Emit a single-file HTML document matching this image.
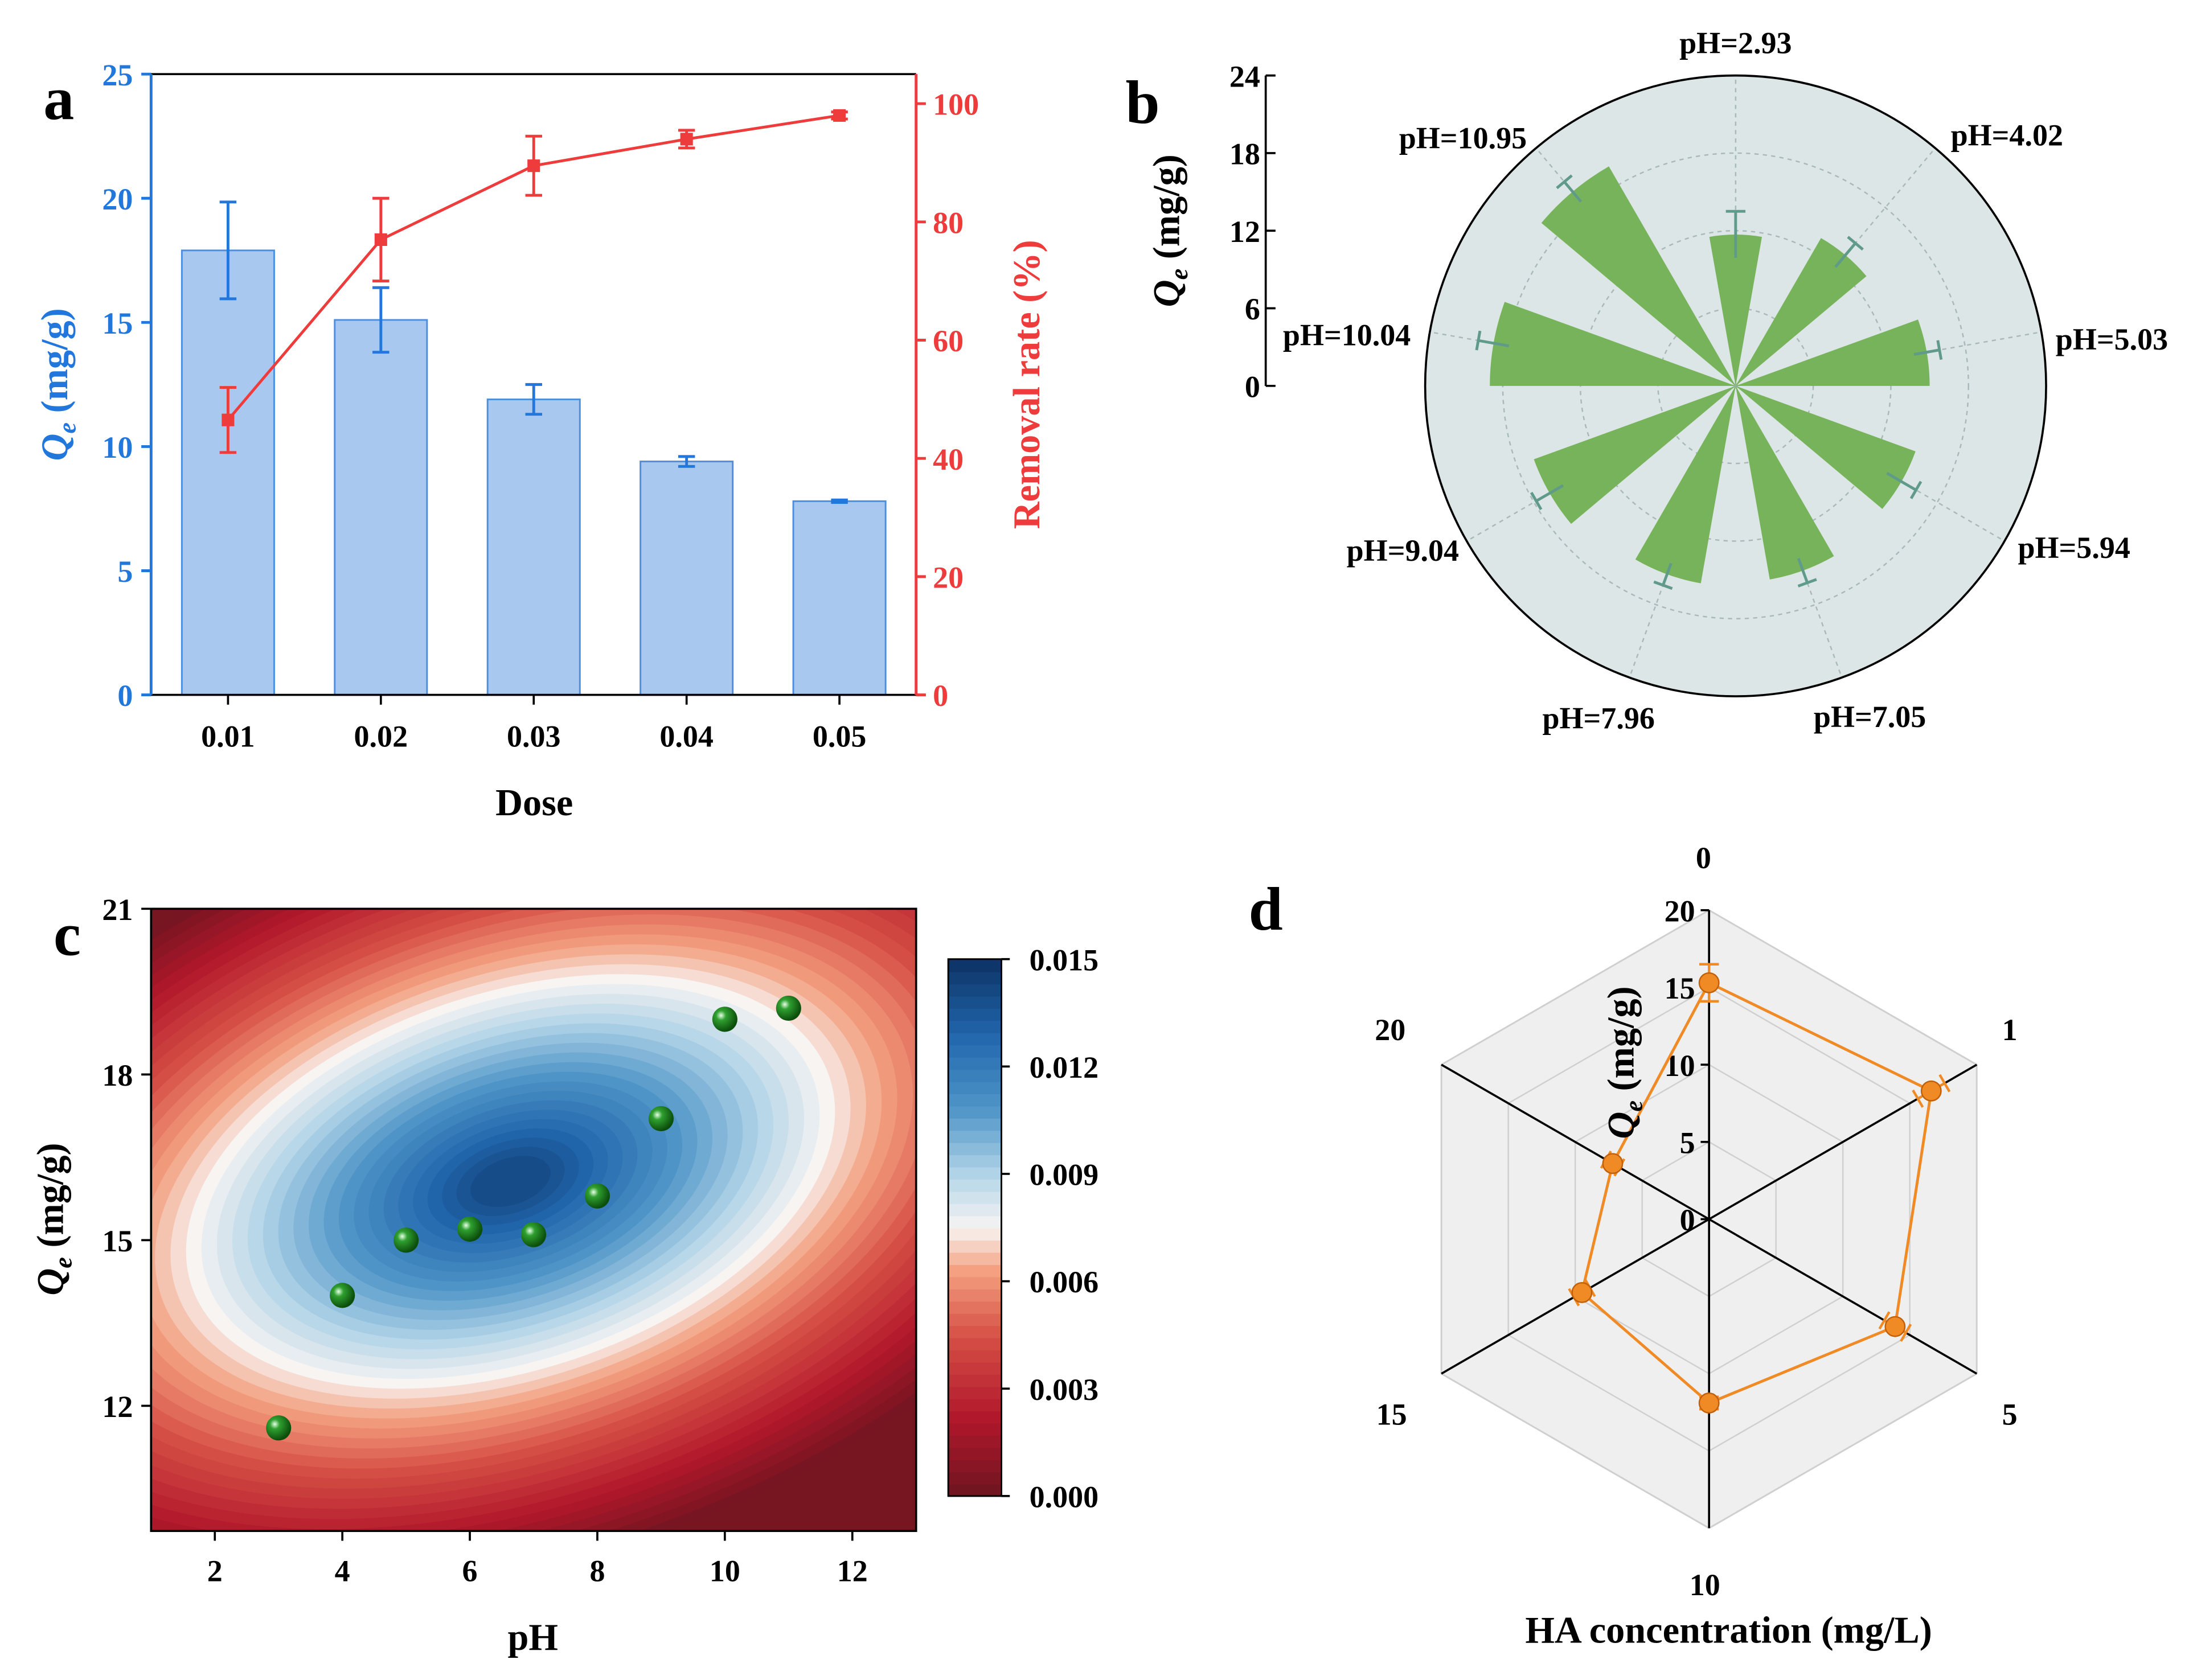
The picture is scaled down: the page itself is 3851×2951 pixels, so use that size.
<!DOCTYPE html>
<html><head><meta charset="utf-8"><style>
html,body{margin:0;padding:0;background:#fff;overflow:hidden;width:3851px;height:2951px;}
svg{display:block;font-family:"Liberation Serif","Times New Roman",serif;font-weight:bold;}
</style></head><body>
<svg id="fig" xmlns="http://www.w3.org/2000/svg" width="3851" height="2951" viewBox="0 0 1568 1201.6">
<rect x="0" y="0" width="1568" height="1202" fill="#fff"/>
<defs>
<clipPath id="clipc"><rect x="108" y="650" width="547" height="445"/></clipPath>
<radialGradient id="ball" cx="35%" cy="35%" r="65%"><stop offset="0" stop-color="#e8ffe8"/><stop offset="0.3" stop-color="#2fa02f"/><stop offset="1" stop-color="#0b4d0b"/></radialGradient>
</defs>
<g id="pa"></g>
<g id="pb"></g>
<g id="pc"></g>
<g id="pd"></g>
</svg>
<script>
// ---- Panel a data
const doses=['0.01','0.02','0.03','0.04','0.05'];
const qeVals=[17.9,15.1,11.9,9.4,7.8];
const qeErr=[1.95,1.3,0.6,0.2,0.05];
const remVals=[46.5,77,89.5,94,98];
const remErr=[5.5,7,5,1.5,0.6];
const qeTicks=[0,5,10,15,20,25];
const remTicks=[0,20,40,60,80,100];
// ---- Panel b data
const phLabels=['pH=2.93','pH=4.02','pH=5.03','pH=5.94','pH=7.05','pH=7.96','pH=9.04','pH=10.04','pH=10.95'];
const polarVals=[11.7,13.2,15.0,14.8,15.2,15.5,16.6,19.0,19.6];
const polarErr=[1.8,1.2,1.0,1.3,1.0,0.9,1.2,1.2,1.0];
const polarTicks=[0,6,12,18,24];
// ---- Panel c data
const phPts=[3,4,5,6,7,8,9,10,11];
const qePts=[11.6,14.0,15.0,15.2,15.1,15.8,17.2,19.0,19.2];
const cxTicks=[2,4,6,8,10,12];
const cyTicks=[12,15,18,21];
const cbTicks=['0.000','0.003','0.006','0.009','0.012','0.015'];
// ---- Panel d data
const haConc=['0','1','5','10','15','20'];
const haVals=[15.3,16.6,13.9,11.9,9.5,7.2];
const haErr=[1.2,1.0,0.8,0.4,0.6,0.5];
const radarTicks=[0,5,10,15,20];

const NS='http://www.w3.org/2000/svg';
function mk(tag,attrs,parent,txt){const e=document.createElementNS(NS,tag);for(const k in attrs)e.setAttribute(k,attrs[k]);if(txt!==undefined)e.textContent=txt;parent.appendChild(e);return e;}
let el;
// ================= Panel a
const pa=document.getElementById('pa');
const aL=108,aR=655,aT=53,aB=497;
const blue='#2277dd',red='#ee3b3b';
const xA=i=>163+i*109.3;
const yQ=v=>aB-v/25*(aB-aT);
const yR=v=>aB-v/105*(aB-aT);
el=mk('text',{x:42,y:85,'font-size':44,'text-anchor':'middle'},pa,'a');


doses.forEach((d,i)=>{
  el=mk('rect',{x:xA(i)-33,y:yQ(qeVals[i]),width:66,height:aB-yQ(qeVals[i]),fill:'#a9c8f0',stroke:'#4d8fdc','stroke-width':1.2},pa);
  
  
  const t=yQ(qeVals[i]+qeErr[i]),b=yQ(qeVals[i]-qeErr[i]);
  el=mk('path',{d:`M${xA(i)} ${t}V${b}M${xA(i)-6} ${t}H${xA(i)+6}M${xA(i)-6} ${b}H${xA(i)+6}`,stroke:blue,'stroke-width':2,fill:'none'},pa);
  
  
});
let lp='';
doses.forEach((d,i)=>{lp+=(i?'L':'M')+xA(i)+' '+yR(remVals[i]);});
el=mk('path',{d:lp,stroke:red,'stroke-width':2,fill:'none'},pa);


doses.forEach((d,i)=>{
  const x=xA(i),t=yR(remVals[i]+remErr[i]),b=yR(remVals[i]-remErr[i]);
  el=mk('path',{d:`M${x} ${t}V${b}M${x-6} ${t}H${x+6}M${x-6} ${b}H${x+6}`,stroke:red,'stroke-width':2,fill:'none'},pa);
  
  
  el=mk('rect',{x:x-4.5,y:yR(remVals[i])-4.5,width:9,height:9,fill:red},pa);
  
  
});
el=mk('path',{d:`M${aL} ${aT}V${aB}H${aR}M${aL} ${aT}H${aR}`,stroke:'#000','stroke-width':1.5,fill:'none'},pa);


el=mk('line',{x1:aL,y1:aT,x2:aL,y2:aB,stroke:blue,'stroke-width':2},pa);


el=mk('line',{x1:aR,y1:aT,x2:aR,y2:aB,stroke:red,'stroke-width':2},pa);


qeTicks.forEach(v=>{
  mk('line',{x1:aL-7,x2:aL,y1:yQ(v),y2:yQ(v),stroke:blue,'stroke-width':2},pa);
  el=mk('text',{x:aL-13,y:yQ(v)+8,'font-size':22,fill:blue,'text-anchor':'end'},pa,v);
  
  
});
remTicks.forEach(v=>{
  mk('line',{x1:aR,x2:aR+7,y1:yR(v),y2:yR(v),stroke:red,'stroke-width':2},pa);
  el=mk('text',{x:aR+12,y:yR(v)+8,'font-size':22,fill:red},pa,v);
  
  
});
doses.forEach((d,i)=>{
  mk('line',{x1:xA(i),x2:xA(i),y1:aB,y2:aB+7,stroke:'#000','stroke-width':1.5},pa);
  el=mk('text',{x:xA(i),y:534,'font-size':22,'text-anchor':'middle'},pa,d);
  
  
});
el=mk('text',{x:382,y:583,'font-size':27,'text-anchor':'middle'},pa,'Dose');


el=mk('text',{transform:'translate(48,275) rotate(-90)','font-size':27,fill:blue,'text-anchor':'middle'},pa);
el.innerHTML='<tspan font-style="italic">Q</tspan><tspan font-style="italic" font-size="18" dy="6">e</tspan><tspan dy="-6"> (mg/g)</tspan>';


el=mk('text',{transform:'translate(743,275) rotate(-90)','font-size':27,fill:red,'text-anchor':'middle'},pa,'Removal rate (%)');



// ================= Panel b
const pb=document.getElementById('pb');
const bcx=1241,bcy=276,bR=222,bMax=24;
const rB=v=>v/bMax*bR;
const pt=(r,deg)=>{const a=deg*Math.PI/180;return [bcx+r*Math.sin(a),bcy-r*Math.cos(a)];};
el=mk('text',{x:817,y:88,'font-size':44,'text-anchor':'middle'},pb,'b');


el=mk('circle',{cx:bcx,cy:bcy,r:bR,fill:'#dde6e6',stroke:'#000','stroke-width':1.5},pb);


[6,12,18].forEach(v=>{
  el=mk('circle',{cx:bcx,cy:bcy,r:rB(v),fill:'none',stroke:'#a9b8b8','stroke-width':1,'stroke-dasharray':'3 3'},pb);
  
  
});
phLabels.forEach((l,i)=>{
  const p=pt(bR,i*40);
  mk('line',{x1:bcx,y1:bcy,x2:p[0],y2:p[1],stroke:'#a9b8b8','stroke-width':1,'stroke-dasharray':'3 3'},pb);
});
phLabels.forEach((l,i)=>{
  const c=i*40,h=10,r=rB(polarVals[i]);
  const p1=pt(r,c-h),p2=pt(r,c+h);
  el=mk('path',{d:`M${bcx} ${bcy}L${p1[0]} ${p1[1]}A${r} ${r} 0 0 1 ${p2[0]} ${p2[1]}Z`,fill:'#77b35a'},pb);
  
  
  const r0=rB(polarVals[i]-polarErr[i]),r1=rB(polarVals[i]+polarErr[i]);
  const a=pt(r0,c),b=pt(r1,c);
  const perp=[Math.cos(c*Math.PI/180)*7,Math.sin(c*Math.PI/180)*7];
  el=mk('path',{d:`M${a[0]} ${a[1]}L${b[0]} ${b[1]}M${b[0]-perp[0]} ${b[1]-perp[1]}L${b[0]+perp[0]} ${b[1]+perp[1]}`,stroke:'#5f9a8a','stroke-width':2,fill:'none'},pb);
  
  
});
const phPos=[[1241,38,'middle'],[1435,104,'middle'],[1510,250,'middle'],[1483,399,'middle'],[1337,520,'middle'],[1143,521,'middle'],[1003,401,'middle'],[963,247,'middle'],[1046,106,'middle']];
phLabels.forEach((l,i)=>{
  el=mk('text',{x:phPos[i][0],y:phPos[i][1],'font-size':22,'text-anchor':phPos[i][2]},pb,l);
  
  
});
el=mk('line',{x1:905,y1:bcy-bR,x2:905,y2:bcy,stroke:'#000','stroke-width':1.5},pb);


polarTicks.forEach(v=>{
  const y=bcy-rB(v);
  mk('line',{x1:905,x2:912,y1:y,y2:y,stroke:'#000','stroke-width':1.5},pb);
  el=mk('text',{x:901,y:y+8,'font-size':22,'text-anchor':'end'},pb,v);
  
  
});
el=mk('text',{transform:'translate(843,165) rotate(-90)','font-size':27,'text-anchor':'middle'},pb);
el.innerHTML='<tspan font-style="italic">Q</tspan><tspan font-style="italic" font-size="18" dy="6">e</tspan><tspan dy="-6"> (mg/g)</tspan>';



// ================= Panel c
const pc=document.getElementById('pc');
const cL=108,cR=655,cT=650,cB=1095;
const xC=v=>cL+(v-1)/12*(cR-cL);
const yC=v=>cT+(21-v)/3*118.5;
function lerp(a,b,t){return Math.round(a+(b-a)*t);}
const stops=[[0,[110,20,32]],[0.15,[178,24,43]],[0.3,[214,80,70]],[0.42,[244,160,128]],[0.5,[247,244,242]],[0.6,[178,212,232]],[0.72,[80,150,200]],[0.86,[33,102,172]],[1,[12,50,100]]];
function cmap(t){for(let i=1;i<stops.length;i++){if(t<=stops[i][0]){const a=stops[i-1],b=stops[i],u=(t-a[0])/(b[0]-a[0]);return `rgb(${lerp(a[1][0],b[1][0],u)},${lerp(a[1][1],b[1][1],u)},${lerp(a[1][2],b[1][2],u)})`;}}return 'rgb(12,50,100)';}
el=mk('text',{x:48,y:683,'font-size':44,'text-anchor':'middle'},pc,'c');


const cg=mk('g',{'clip-path':'url(#clipc)'},pc);


mk('rect',{x:cL,y:cT,width:cR-cL,height:cB-cT,fill:cmap(0.02)},cg);
const NL=44,ecx=365,ecy=845,sa=240,sb=135;
for(let i=1;i<NL;i++){
  const f=i/NL;const d=Math.pow(2*(1-f),1.05);
  el=mk('ellipse',{cx:ecx,cy:ecy,rx:sa*d,ry:sb*d,transform:`rotate(-18 ${ecx} ${ecy})`,fill:cmap(Math.min(f,0.93))},cg);
  
  
}
phPts.forEach((p,i)=>{
  el=mk('circle',{cx:xC(p),cy:yC(qePts[i]),r:9,fill:'url(#ball)'},pc);
  
  
});
el=mk('rect',{x:cL,y:cT,width:cR-cL,height:cB-cT,fill:'none',stroke:'#000','stroke-width':1.5},pc);


cxTicks.forEach(v=>{
  mk('line',{x1:xC(v),x2:xC(v),y1:cB,y2:cB+7,stroke:'#000','stroke-width':1.5},pc);
  el=mk('text',{x:xC(v),y:1131,'font-size':22,'text-anchor':'middle'},pc,v);
  
  
});
cyTicks.forEach(v=>{
  mk('line',{x1:cL-7,x2:cL,y1:yC(v),y2:yC(v),stroke:'#000','stroke-width':1.5},pc);
  el=mk('text',{x:cL-13,y:yC(v)+8,'font-size':22,'text-anchor':'end'},pc,v);
  
  
});
el=mk('text',{x:381,y:1180,'font-size':27,'text-anchor':'middle'},pc,'pH');


el=mk('text',{transform:'translate(45,872) rotate(-90)','font-size':27,'text-anchor':'middle'},pc);
el.innerHTML='<tspan font-style="italic">Q</tspan><tspan font-style="italic" font-size="18" dy="6">e</tspan><tspan dy="-6"> (mg/g)</tspan>';


const cbT=686,cbB=1070,cbX=678,cbW=38;
const cb=mk('g',{},pc);


for(let i=0;i<NL;i++){
  const h=(cbB-cbT)/NL;
  mk('rect',{x:cbX,y:cbB-(i+1)*h,width:cbW,height:h+0.6,fill:cmap((i+0.5)/NL)},cb);
}
mk('rect',{x:cbX,y:cbT,width:cbW,height:cbB-cbT,fill:'none',stroke:'#000','stroke-width':1.2},cb);
cbTicks.forEach((t,i)=>{
  const y=cbB-i/(cbTicks.length-1)*(cbB-cbT);
  mk('line',{x1:cbX+cbW,x2:cbX+cbW+6,y1:y,y2:y,stroke:'#000','stroke-width':1.5},cb);
  el=mk('text',{x:cbX+cbW+20,y:y+8,'font-size':22},cb,t);
  
  
});

// ================= Panel d
const pd=document.getElementById('pd');
const dcx=1222,dcy=872,dR=221,dMax=20;
const ptd=(v,i)=>{const a=(i*60)*Math.PI/180,r=v/dMax*dR;return [dcx+r*Math.sin(a),dcy-r*Math.cos(a)];};
el=mk('text',{x:905,y:665,'font-size':44,'text-anchor':'middle'},pd,'d');


function hex(v){return haConc.map((c,i)=>{const p=ptd(v,i);return (i?'L':'M')+p[0]+' '+p[1];}).join('')+'Z';}
el=mk('path',{d:hex(20),fill:'#efefef',stroke:'#cfcfcf','stroke-width':1.2},pd);


[5,10,15].forEach(v=>{
  el=mk('path',{d:hex(v),fill:'none',stroke:'#cfcfcf','stroke-width':1},pd);
  
  
});
haConc.forEach((c,i)=>{
  const p=ptd(20,i);
  el=mk('line',{x1:dcx,y1:dcy,x2:p[0],y2:p[1],stroke:i===0?'#cfcfcf':'#000','stroke-width':1.5},pd);
  
  
});
el=mk('line',{x1:dcx,y1:dcy,x2:dcx,y2:dcy-dR,stroke:'#000','stroke-width':1.5},pd);


radarTicks.forEach(v=>{
  const y=dcy-v/dMax*dR;
  mk('line',{x1:dcx-6,x2:dcx,y1:y,y2:y,stroke:'#000','stroke-width':1.5},pd);
  el=mk('text',{x:dcx-10,y:y+8,'font-size':22,'text-anchor':'end'},pd,v);
  
  
});
let rp='';
haConc.forEach((c,i)=>{const p=ptd(haVals[i],i);rp+=(i?'L':'M')+p[0]+' '+p[1];});
el=mk('path',{d:rp+'Z',fill:'none',stroke:'#f08a24','stroke-width':2},pd);


haConc.forEach((c,i)=>{
  const a=ptd(haVals[i]-haErr[i],i),b=ptd(haVals[i]+haErr[i],i);
  const ang=i*60*Math.PI/180,px=Math.cos(ang)*7,py=Math.sin(ang)*7;
  el=mk('path',{d:`M${a[0]} ${a[1]}L${b[0]} ${b[1]}M${a[0]-px} ${a[1]-py}L${a[0]+px} ${a[1]+py}M${b[0]-px} ${b[1]-py}L${b[0]+px} ${b[1]+py}`,stroke:'#f08a24','stroke-width':1.8,fill:'none'},pd);
  
  
  const p=ptd(haVals[i],i);
  el=mk('circle',{cx:p[0],cy:p[1],r:7,fill:'#f08a24',stroke:'#c0600a','stroke-width':1},pd);
  
  
});
const dPos=[[1218,621],[1437,744],[1437,1019],[1219,1141],[995,1019],[994,744]];
haConc.forEach((c,i)=>{
  el=mk('text',{x:dPos[i][0],y:dPos[i][1],'font-size':22,'text-anchor':'middle'},pd,c);
  
  
});
el=mk('text',{x:1236,y:1175,'font-size':27,'text-anchor':'middle'},pd,'HA concentration (mg/L)');


el=mk('text',{transform:'translate(1168,760) rotate(-90)','font-size':27,'text-anchor':'middle'},pd);
el.innerHTML='<tspan font-style="italic">Q</tspan><tspan font-style="italic" font-size="18" dy="6">e</tspan><tspan dy="-6"> (mg/g)</tspan>';


</script>
</body></html>
